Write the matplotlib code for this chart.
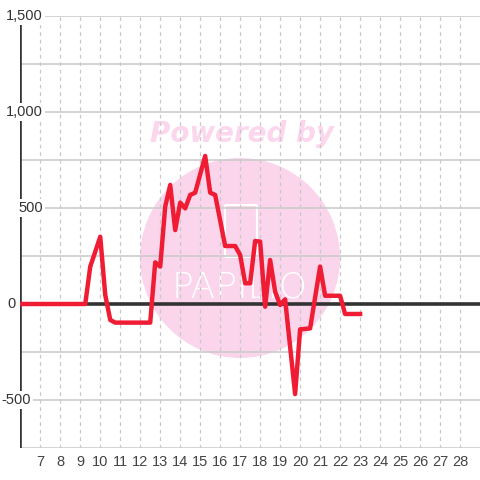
import matplotlib.pyplot as plt
from matplotlib.patches import Circle, FancyBboxPatch

# data (hour, value)
hours = [6.0, 9.25, 9.5, 10.0, 10.25, 10.5, 10.75, 12.5, 12.75, 13.0, 13.25, 13.5,
         13.75, 14.0, 14.25, 14.5, 14.75, 15.25, 15.5, 15.75, 16.25, 16.75, 17.0,
         17.25, 17.5, 17.75, 18.0, 18.25, 18.5, 18.75, 19.0, 19.25, 19.75, 20.0,
         20.5, 21.0, 21.25, 22.0, 22.25, 23.0]
values = [0, 0, 195, 350, 47, -83, -97, -97, 217, 195, 507, 620,
          385, 528, 498, 568, 580, 771, 580, 568, 302, 302, 255,
          108, 108, 328, 325, -14, 229, 64, -5, 24, -469, -132,
          -127, 195, 43, 43, -52, -52]

xticks = list(range(7, 29))
yticks = [1500, 1000, 500, 0, -500]
ylabels = ['1,500', '1,000', '500', '0', '-500']
label_right_px = [43, 43, 43, 16, 31]

W = 480
fig = plt.figure(figsize=(4.8, 4.8), dpi=100)
fig.patch.set_facecolor('white')
ax = fig.add_axes([20.3 / W, 32 / W, (W - 20.3) / W, 432 / W])
ax.set_xlim(6, 29)
ax.set_ylim(-750, 1500)
for s in ax.spines.values():
    s.set_visible(False)

# watermark (behind the grid)
ax.add_patch(Circle((240 / W, 1 - 258 / W), 100 / W, transform=fig.transFigure,
                    facecolor='#fbd5eb', edgecolor='none', zorder=0.2, clip_on=False))
ax.add_patch(FancyBboxPatch((226 / W, 1 - 256 / W), 30 / W, 50 / W,
                            boxstyle='round,pad=0.002', transform=fig.transFigure,
                            facecolor='none', edgecolor='white', lw=1.5, zorder=0.3,
                            clip_on=False))
ax.text(242 / W, 1 - 134 / W, 'Powered by', ha='center', va='center', fontsize=20,
        fontweight='bold', fontstyle='italic', color='#fcd6ec', zorder=0.3,
        transform=fig.transFigure)
ax.text(240 / W, 1 - 288 / W, 'PAPILIO', ha='center', va='center', fontsize=26,
        fontweight='light', color='white', zorder=0.3, transform=fig.transFigure)

# grid
for x in xticks:
    ax.axvline(x, color='#c8c8c8', lw=0.9, ls=(0, (3, 3)), zorder=1)
for y in range(-750, 1501, 250):
    ax.axhline(y, color='#cccccc', lw=1.2, zorder=1)
ax.axhline(0, color='#333333', lw=2.6, zorder=2)
ax.axvline(6, color='#333333', lw=2.6, zorder=2)

ax.plot(hours, values, color='#f01c34', lw=3.2, zorder=3)

ax.set_xticks(xticks)
ax.set_xticklabels([str(x) for x in xticks], fontsize=10.5, color='#444444',
                   family='Liberation Sans')
ax.tick_params(axis='x', length=0, pad=5)
ax.set_yticks([])

tr = ax.get_yaxis_transform()
for y, lab, rp in zip(yticks, ylabels, label_right_px):
    ax.text((rp - 20.3) / (W - 20.3), y, lab, ha='right', va='center', fontsize=10.5,
            color='#333333', family='Liberation Sans', transform=tr, zorder=4,
            bbox=dict(facecolor='white', edgecolor='none', pad=1.5))

fig.savefig('out.png', dpi=100)
